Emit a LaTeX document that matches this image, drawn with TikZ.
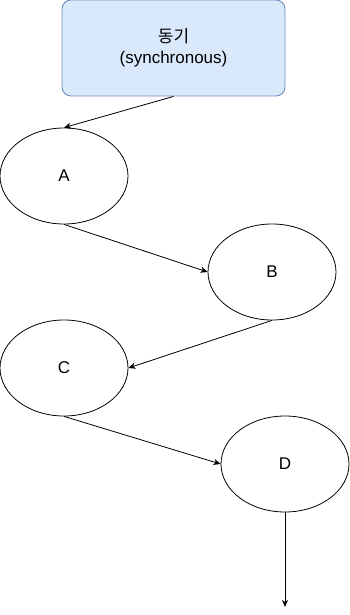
\documentclass[tikz,border=0pt]{standalone}
\usepackage{fontspec}
\setmainfont{Liberation Sans}
\newfontfamily\krfont{Noto Sans CJK KR}
\usepackage{xcolor}
\usepackage{tikz}
\usetikzlibrary{arrows.meta,shapes.geometric}
\definecolor{syncFill}{RGB}{218,232,252}
\definecolor{syncEdge}{RGB}{108,142,191}

\begin{document}
\begin{tikzpicture}[x=1pt,y=1pt,
  stagebox/.style={draw=syncEdge, fill=syncFill, line width=0.9pt, rounded corners=9pt,
    minimum width=223pt, minimum height=96pt, inner sep=0pt, align=center, font=\fontsize{17}{21}\selectfont},
  stage/.style={draw, ellipse, line width=0.8pt, minimum width=128pt, minimum height=96pt,
    inner sep=0pt, font=\fontsize{17}{20}\selectfont},
  flow/.style={-{Stealth[length=7pt,width=6pt,inset=2pt]}, line width=0.8pt}]
\useasboundingbox (0,0) rectangle (350,-615);
\node[stagebox] (sync) at (173.5,-48) {{\krfont 동기}\\(synchronous)};
\node[stage] (a) at (64,-176) {A};
\node[stage] (b) at (272,-272) {B};
\node[stage] (c) at (64,-368) {C};
\node[stage] (d) at (285,-464) {D};
\coordinate (out) at (285,-607);
\draw[flow] (sync.south) -- (a.north);
\draw[flow] (a.south) -- (b.west);
\draw[flow] (b.south) -- (c.east);
\draw[flow] (c.south) -- (d.west);
\draw[flow] (d.south) -- (out);
\end{tikzpicture}
\end{document}
